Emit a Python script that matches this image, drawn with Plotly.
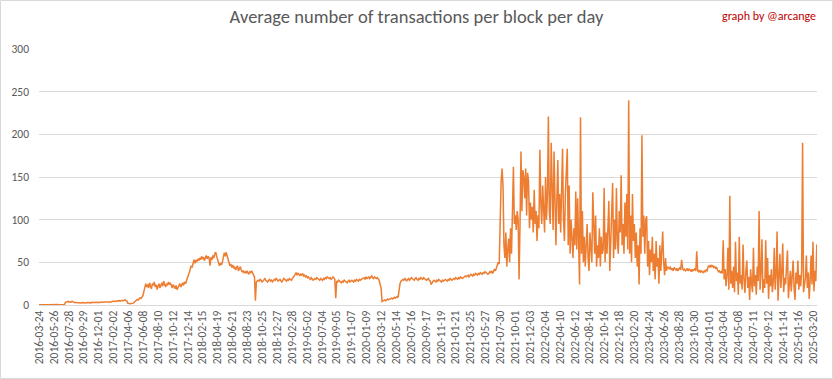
import plotly.graph_objects as go

# ---- tick labels (one every 63 categories) ----
tick_labels = [
    "2016-03-24", "2016-05-26", "2016-07-28", "2016-09-29", "2016-12-01",
    "2017-02-02", "2017-04-06", "2017-06-08", "2017-08-10", "2017-10-12",
    "2017-12-14", "2018-02-15", "2018-04-19", "2018-06-21", "2018-08-23",
    "2018-10-25", "2018-12-27", "2019-02-28", "2019-05-02", "2019-07-04",
    "2019-09-05", "2019-11-07", "2020-01-09", "2020-03-12", "2020-05-14",
    "2020-07-16", "2020-09-17", "2020-11-19", "2021-01-21", "2021-03-25",
    "2021-05-27", "2021-07-30", "2021-10-01", "2021-12-03", "2022-02-04",
    "2022-04-10", "2022-06-12", "2022-08-14", "2022-10-16", "2022-12-18",
    "2023-02-20", "2023-04-24", "2023-06-26", "2023-08-28", "2023-10-30",
    "2024-01-01", "2024-03-04", "2024-05-08", "2024-07-11", "2024-09-12",
    "2024-11-14", "2025-01-16", "2025-03-20",
]
CATS_PER_TICK = 63
CATS_PER_SAMPLE = 4
N_CATS = 3294

# ---- values, one reading every 4 days ----
vals_2016 = [
    0.3, 0.4, 0.4, 0.5, 0.4, 0.3, 0.4, 0.5, 0.4, 0.4, 0.3, 0.4, 0.5, 0.4,
    0.4, 0.3, 0.4, 0.5, 0.4, 0.4, 0.5, 0.4, 0.3, 0.4, 0.5, 0.4, 0.4, 0.5,
    3.2, 3.8, 3.5, 4.2, 3.6, 3.1, 3.4, 4.5, 3.3, 2.9, 3.0, 2.8, 2.6,
    2.4, 2.2, 2.6, 2.1, 2.3, 2.8, 2.5, 2.2, 2.7, 2.4, 2.9, 2.6, 3.0, 2.7,
    2.5, 3.1, 2.8, 3.2, 2.9, 3.3, 3.0, 3.4, 3.1, 2.9, 3.3,
    3.5, 3.8, 3.3, 3.9, 3.6, 3.4, 3.7, 4.0, 3.5, 3.2, 3.6,
    3.9, 4.2, 4.6, 4.1, 4.4, 4.8, 4.3, 4.7, 5.1, 4.5, 4.9, 5.4, 4.8, 5.6,
    6.2, 5.0, 4.6,
    2.1, 1.6, 1.8, 1.5, 1.9, 1.7, 2.2,
    3.5, 4.8, 5.2, 6.5, 5.8, 7.2, 8.5, 7.6, 9.4, 11.0,
]
vals_2017 = [
    16, 22, 25, 21,
    24, 20, 26, 22, 19, 25, 23, 27, 21, 24, 18, 22, 25, 20, 23, 26, 22, 28,
    24, 21, 25, 23, 27, 24, 26, 22, 20, 24, 21, 19, 23, 18, 20, 22, 25, 21,
    24, 26, 23, 27, 25, 28,
    30, 33, 38, 42, 46, 44, 50, 53, 49, 52,
    51, 54, 52, 55, 53, 57, 54, 56, 52, 55, 58, 54, 57, 55, 46, 56, 53, 58, 55,
    60, 62, 57, 52, 48, 46, 49,
    47, 50, 55, 61, 57, 62, 58, 54,
    50, 46, 48, 44, 47, 43,
    45, 41, 44, 46, 40, 43, 45, 41, 39,
    40, 38, 39, 37, 40, 38, 36, 39, 38, 40, 37, 35, 33,
]
vals_2018 = [
    5,
    27, 28, 29, 28, 30, 29, 27, 28, 30, 31, 29, 28, 27, 29, 30, 28, 29, 27,
    28, 30, 29, 31, 30, 28, 29, 30, 28, 27, 29, 31, 30, 29, 28, 30, 29, 31,
    30, 29, 31, 32,
    34, 36, 38, 35, 37, 36, 34, 36, 35, 37, 34, 35, 33, 34, 32, 33,
    31, 30, 32, 31, 29, 30, 31, 30, 32, 31, 30, 29, 31, 30, 29, 31, 30, 32,
    31, 33, 32, 31, 32, 30, 31, 33, 32, 30,
    8,
    28, 27, 29, 28, 27, 26, 28, 27, 29, 28, 27, 26, 28, 29, 27, 28, 29, 28,
    27, 29, 28, 30, 29, 28, 30, 29, 30, 31,
    31, 32, 30, 33, 31, 32, 33, 31, 32, 34, 32, 31, 33, 32, 31, 32, 30, 29,
    24, 20,
]
vals_2020 = [
    4, 5, 5, 6, 5, 6, 7, 6, 7, 7, 8, 7, 8, 9, 8, 9, 10, 9,
    20, 25,
    28, 29, 30, 29, 31, 30, 28, 30, 31, 29, 30, 32, 31, 30, 29, 31, 32, 30,
    29, 31, 30, 32, 31, 30, 32, 31, 30, 29, 30, 31, 29, 28,
    24,
    27, 28, 29, 28, 27, 29, 28, 30, 29, 28, 27, 29, 28, 29, 30, 29, 28, 30,
    29, 31, 30, 29, 30, 31, 30, 32, 31, 30, 32, 31, 33, 32, 31,
    32, 33, 34, 33, 34, 35, 33, 34, 36, 35, 34, 36, 35, 37, 36, 35, 37, 36,
    38, 37, 36, 38, 37, 39, 38, 37, 36,
    37, 39, 38, 40, 37, 39, 42, 40, 44, 46, 50,
]
vals_2021 = [
    48, 120, 145, 160,
    140, 70, 55, 85, 45, 65, 78, 50, 90, 60,
    100, 162, 95, 105, 88, 110, 100, 30, 95, 180,
    110, 158, 150, 125, 160, 105, 155, 145, 90, 120,
    100, 115, 85, 135, 95, 110, 75, 105, 90, 182,
    120, 95, 140, 105, 85, 150, 100, 130, 221, 110,
    95, 190, 120, 88, 180, 110, 70, 125, 170, 95,
    130, 85, 145, 183, 100, 75, 130, 150, 183, 70,
    140, 60, 100, 80, 55, 90, 70, 133, 65, 125,
    75, 24, 220, 60, 110, 50, 80, 45, 70, 95,
    55, 40, 85, 65, 50, 132, 75, 60, 105, 45,
    70, 55, 90, 45, 80, 60, 65, 137, 50, 85,
    60, 95, 122, 40, 70, 90, 143, 55, 100, 65,
    137, 75, 60, 110, 85, 152, 70, 95, 60, 120,
    80, 130, 65, 240, 60, 105, 50, 130, 75, 95,
    55, 85, 45, 70, 24, 90, 60, 199, 80, 105,
    60, 100, 104, 45, 75, 35, 65, 50, 80, 40,
    60, 30, 75, 45, 55, 25, 70, 40, 60, 86,
    50, 35, 55, 40, 45,
]
vals_2023 = [
    44, 42, 45, 41, 43, 40, 44, 42, 41, 43, 40, 42, 44, 41,
    53,
    43, 41, 42, 40, 41, 43, 40, 42, 41, 39, 42, 40, 41, 43, 40,
    63,
    40, 39, 41, 38, 40, 39, 38, 40, 39, 41, 40,
    45, 46, 44, 47, 45, 46, 44, 45, 43, 44,
    41, 39, 40, 38, 39, 37,
]
vals_2024 = [
    76, 30, 42, 22, 35, 67, 18, 128, 25, 40,
    20, 45, 15, 74, 28, 38, 12, 80, 25, 35,
    18, 71, 30, 14, 40, 52, 20, 33, 6, 42,
    25, 15, 67, 22, 35, 12, 45, 28, 110, 18,
    38, 77, 14, 30, 20, 76, 25, 55, 7, 35,
    22, 42, 15, 28, 67, 18, 36, 86, 5, 30,
    60, 20, 38, 72, 15, 32, 24, 45, 64, 8,
    28, 40, 16, 34, 52, 20, 6, 38, 25, 52,
    18, 35, 22, 40, 190, 15, 28, 32, 58, 20,
    38, 7, 30, 58, 24, 74, 16, 40, 28, 71,
]

values = vals_2016 + vals_2017 + vals_2018 + vals_2020 + vals_2021 + vals_2023 + vals_2024
x_idx = [i * CATS_PER_SAMPLE for i in range(len(values))]
dates = []
for i in range(len(values)):
    k = (i * CATS_PER_SAMPLE) // CATS_PER_TICK
    dates.append(tick_labels[min(k, len(tick_labels) - 1)])

tick_vals = [i * CATS_PER_TICK for i in range(len(tick_labels))]

FONT = "Carlito, Lato, Liberation Sans, sans-serif"
GREY = "#595959"

fig = go.Figure()
fig.add_trace(go.Scatter(
    x=x_idx, y=values, mode="lines",
    line=dict(color="#ED7D31", width=1.5),
    customdata=dates,
    hovertemplate="%{customdata}: %{y}<extra></extra>",
))

L, R, T, B = 39, 16, 49, 74
W, H = 833, 379
pw, ph = W - L - R, H - T - B

fig.update_layout(
    width=W, height=H,
    margin=dict(l=L, r=R, t=T, b=B, pad=0, autoexpand=False),
    paper_bgcolor="white", plot_bgcolor="white",
    showlegend=False,
    font=dict(family=FONT, color=GREY),
    title=dict(
        text="Average number of transactions per block per day",
        x=0.5, xanchor="center", y=1 - 17 / H, yanchor="middle",
        font=dict(family=FONT, size=18.5, color=GREY, weight=300),
    ),
    xaxis=dict(
        range=[0, N_CATS - 1],
        tickmode="array", tickvals=tick_vals, ticktext=tick_labels,
        tickangle=-90, tickfont=dict(size=11.5, color=GREY, family=FONT),
        showgrid=False, zeroline=False,
        showline=True, linecolor="#D9D9D9", linewidth=1,
        ticks="", fixedrange=True, automargin=False,
    ),
    yaxis=dict(
        range=[0, 300], dtick=50, tick0=0,
        tickfont=dict(size=11.5, color=GREY, family=FONT),
        showgrid=True, gridcolor="#D9D9D9", gridwidth=1,
        zeroline=False, showline=False, ticks="",
        ticklabelstandoff=9, fixedrange=True, automargin=False,
    ),
    annotations=[dict(
        text="graph by @arcange", xref="paper", yref="paper",
        x=(818 - L) / pw, y=(H - B - 16) / ph,
        xanchor="right", yanchor="middle", showarrow=False,
        font=dict(family=FONT, size=12, color="#C00000"),
    )],
    shapes=[dict(
        type="rect", xref="paper", yref="paper",
        x0=(0.5 - L) / pw, x1=(W - 0.5 - L) / pw,
        y0=(H - B - (H - 0.5)) / ph, y1=(H - B - 0.5) / ph,
        line=dict(color="#D9D9D9", width=1), fillcolor="rgba(0,0,0,0)",
        layer="below",
    )],
)

fig.write_html(
    "out.html",
    config={"displayModeBar": False},
    post_script="document.body.style.margin='0';document.body.style.padding='0';",
)
